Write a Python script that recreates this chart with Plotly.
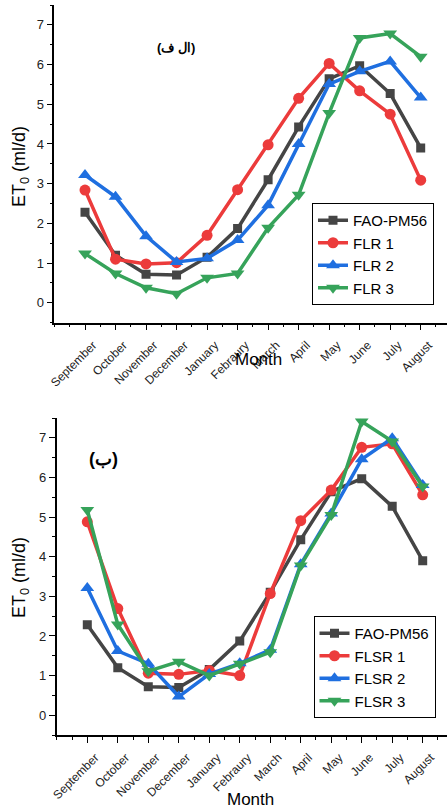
import plotly.graph_objects as go

months = ["September", "October", "November", "December", "January", "Febraury",
          "March", "April", "May", "June", "July", "August"]

fao_pm56 = [2.28, 1.20, 0.72, 0.70, 1.15, 1.87, 3.10, 4.43, 5.64, 5.97, 5.27, 3.90]
flr1 = [2.84, 1.10, 0.98, 1.01, 1.70, 2.85, 3.98, 5.15, 6.03, 5.34, 4.75, 3.09]
flr2 = [3.22, 2.67, 1.68, 1.03, 1.12, 1.58, 2.46, 4.00, 5.51, 5.83, 6.08, 5.17]
flr3 = [1.24, 0.74, 0.38, 0.23, 0.63, 0.74, 1.89, 2.72, 4.78, 6.67, 6.78, 6.20]

flsr1 = [4.88, 2.69, 1.06, 1.03, 1.13, 1.00, 3.07, 4.91, 5.68, 6.76, 6.85, 5.56]
flsr2 = [3.21, 1.62, 1.30, 0.47, 1.04, 1.31, 1.65, 3.81, 5.09, 6.46, 6.99, 5.81]
flsr3 = [5.18, 2.29, 1.11, 1.35, 1.00, 1.30, 1.59, 3.78, 5.05, 7.41, 6.91, 5.77]

top_names = ["FAO-PM56", "FLR 1", "FLR 2", "FLR 3"]
bot_names = ["FAO-PM56", "FLSR 1", "FLSR 2", "FLSR 3"]
y_ticks = [0, 1, 2, 3, 4, 5, 6, 7]

colors = ["#454545", "#ec3b3b", "#1f6fe0", "#36a35a"]
symbols = ["square", "circle", "triangle-up", "triangle-down"]
sizes = [9, 11, 12, 12]

x_idx = list(range(len(months)))
FONT = "Liberation Sans, Arial, sans-serif"

fig = go.Figure()

for i, (name, vals) in enumerate(zip(top_names, [fao_pm56, flr1, flr2, flr3])):
    fig.add_trace(go.Scatter(
        x=x_idx, y=vals, name=name, mode="lines+markers",
        line=dict(color=colors[i], width=3.5),
        marker=dict(symbol=symbols[i], size=sizes[i], color=colors[i]),
        xaxis="x", yaxis="y", legend="legend",
    ))

for i, (name, vals) in enumerate(zip(bot_names, [fao_pm56, flsr1, flsr2, flsr3])):
    fig.add_trace(go.Scatter(
        x=x_idx, y=vals, name=name, mode="lines+markers",
        line=dict(color=colors[i], width=3.5),
        marker=dict(symbol=symbols[i], size=sizes[i], color=colors[i]),
        xaxis="x2", yaxis="y2", legend="legend2",
    ))

W, H = 447, 809

def xaxis_cfg(left_px, sept_px, aug_px, anchor):
    unit = (aug_px - sept_px) / 11
    return dict(
        domain=[left_px / W, 1],
        range=[(left_px - sept_px) / unit, (W - sept_px) / unit],
        tickvals=x_idx, ticktext=months, tickangle=-45,
        tickfont=dict(size=12, color="#222", family=FONT),
        ticks="outside", ticklen=6, tickwidth=1.2, tickcolor="black",
        ticklabelstandoff=3, ticklabelshift=8,
        minor=dict(dtick=0.5, tick0=0, ticks="outside", ticklen=3, tickcolor="black", tickwidth=1),
        showline=True, linecolor="black", linewidth=1.5,
        showgrid=False, zeroline=False, anchor=anchor, automargin=False,
    )

def yaxis_cfg(top_px, bot_px, anchor):
    return dict(
        domain=[(H - bot_px) / H, (H - top_px) / H],
        range=[-0.5, 7.5],
        tickvals=y_ticks,
        tickfont=dict(size=13, color="#222", family=FONT),
        ticks="outside", ticklen=6, tickwidth=1.2, tickcolor="black",
        minor=dict(dtick=0.5, tick0=0, ticks="outside", ticklen=3, tickcolor="black", tickwidth=1),
        showline=True, linecolor="black", linewidth=1.5,
        showgrid=False, zeroline=False, anchor=anchor, automargin=False,
    )

legend_common = dict(
    xanchor="left", yanchor="top",
    bgcolor="white", bordercolor="black", borderwidth=1,
    font=dict(size=15, family=FONT), tracegroupgap=0, itemsizing="trace",
)

fig.update_layout(
    width=W, height=H,
    margin=dict(l=0, r=0, t=0, b=0, autoexpand=False),
    paper_bgcolor="white", plot_bgcolor="white",
    font=dict(family=FONT, color="black"),
    xaxis=xaxis_cfg(54.3, 85, 420.7, "y"),
    yaxis=yaxis_cfg(5, 322.7, "x"),
    xaxis2=xaxis_cfg(56.7, 87.3, 422.7, "y2"),
    yaxis2=yaxis_cfg(418, 735, "x2"),
    legend=dict(x=312 / W, y=(H - 203) / H, **legend_common),
    legend2=dict(x=313.5 / W, y=(H - 616) / H, **legend_common),
    showlegend=True,
)

annotations = [
    dict(text="<b>(ال ف)</b>", x=176 / W, y=(H - 47) / H, xref="paper", yref="paper",
         showarrow=False, font=dict(size=13, family=FONT, color="black"), xanchor="center", yanchor="middle"),
    dict(text="<b>(ب)</b>", x=103 / W, y=(H - 459) / H, xref="paper", yref="paper",
         showarrow=False, font=dict(size=18, family=FONT, color="black"), xanchor="center", yanchor="middle"),
    dict(text="Month", x=258 / W, y=(H - 359) / H, xref="paper", yref="paper",
         showarrow=False, font=dict(size=17, family=FONT, color="black"), xanchor="center", yanchor="middle"),
    dict(text="Month", x=250 / W, y=(H - 799) / H, xref="paper", yref="paper",
         showarrow=False, font=dict(size=17, family=FONT, color="black"), xanchor="center", yanchor="middle"),
    dict(text="ET<sub>0</sub> (ml/d)", x=20 / W, y=(H - 167) / H, xref="paper", yref="paper",
         showarrow=False, textangle=-90, font=dict(size=18, family=FONT, color="black"),
         xanchor="center", yanchor="middle"),
    dict(text="ET<sub>0</sub> (ml/d)", x=20 / W, y=(H - 578) / H, xref="paper", yref="paper",
         showarrow=False, textangle=-90, font=dict(size=18, family=FONT, color="black"),
         xanchor="center", yanchor="middle"),
]
fig.update_layout(annotations=annotations)

fig.write_html(
    "out.html",
    config={"displayModeBar": False},
    post_script="document.body.style.margin='0px';document.body.style.overflow='hidden';",
)
